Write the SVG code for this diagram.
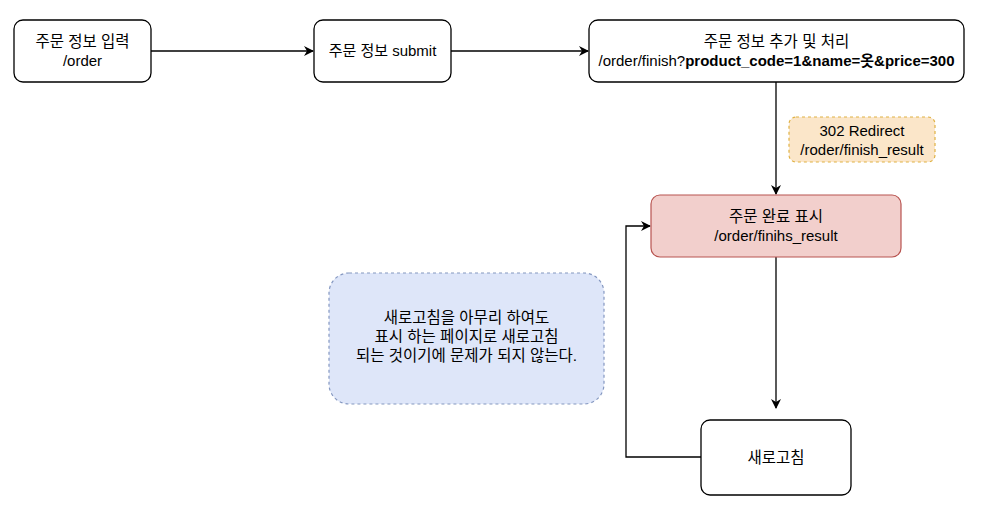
<svg xmlns="http://www.w3.org/2000/svg" width="1006" height="521" viewBox="0 0 1006 521">
<style>
.n{fill:#fff;stroke:#000;stroke-width:1.3}
text{font-family:"Liberation Sans","Noto Sans CJK KR",sans-serif;font-size:15px;fill:#000;text-anchor:middle}
.k{font-size:15.5px}
.c{fill:none;stroke:#000;stroke-width:1.3}
</style>
<defs>
<marker id="a" viewBox="0 0 10 10" refX="9" refY="5" markerWidth="10" markerHeight="10" markerUnits="userSpaceOnUse" orient="auto">
<path d="M0,0 L10,5 L0,10 L3,5 Z" fill="#000"/>
</marker>
</defs>
<rect width="1006" height="521" fill="#fff"/>
<g id="connectors">
<path class="c" d="M151,51 H313" marker-end="url(#a)"/>
<path class="c" d="M451,51 H588" marker-end="url(#a)"/>
<path class="c" d="M776,82 V194" marker-end="url(#a)"/>
<path class="c" d="M776,257 V408" marker-end="url(#a)"/>
<path class="c" d="M701,457 H626 V226 H650" marker-end="url(#a)" stroke="#333"/>
</g>
<g id="n1"><rect class="n" x="14" y="20" width="137" height="62" rx="9"/><text class="k" x="82.5" y="47">주문 정보 입력</text><text x="82.5" y="66">/order</text></g>
<g id="n2"><rect class="n" x="314" y="20" width="137" height="62" rx="9"/><text x="382.5" y="56">주문 정보 submit</text></g>
<g id="n3"><rect class="n" x="589" y="20" width="375" height="62" rx="9"/><text class="k" x="776.5" y="47">주문 정보 추가 및 처리</text><text x="776.5" y="66">/order/finish?<tspan font-weight="bold">product_code=1&amp;name=옷&amp;price=300</tspan></text></g>
<g id="lbl"><rect x="789" y="117" width="146" height="45" rx="7" fill="#fbe6c9" stroke="#e0b245" stroke-width="1.2" stroke-dasharray="3,3"/><text x="862" y="136">302 Redirect</text><text x="862" y="155">/roder/finish_result</text></g>
<g id="n4"><rect x="651" y="195" width="250" height="62" rx="9" fill="#f2cfcc" stroke="#b85450" stroke-width="1.2"/><text class="k" x="776" y="222">주문 완료 표시</text><text x="776" y="241">/order/finihs_result</text></g>
<g id="note"><rect x="329" y="273" width="275" height="131" rx="20" fill="#dee6f9" stroke="#8497c0" stroke-width="1.2" stroke-dasharray="3,3"/><text class="k" x="466.5" y="323">새로고침을 아무리 하여도</text><text class="k" x="466.5" y="342">표시 하는 페이지로 새로고침</text><text class="k" x="466.5" y="361">되는 것이기에 문제가 되지 않는다.</text></g>
<g id="n5"><rect class="n" x="701" y="420" width="150" height="75" rx="9"/><text class="k" x="776" y="463">새로고침</text></g>
</svg>
